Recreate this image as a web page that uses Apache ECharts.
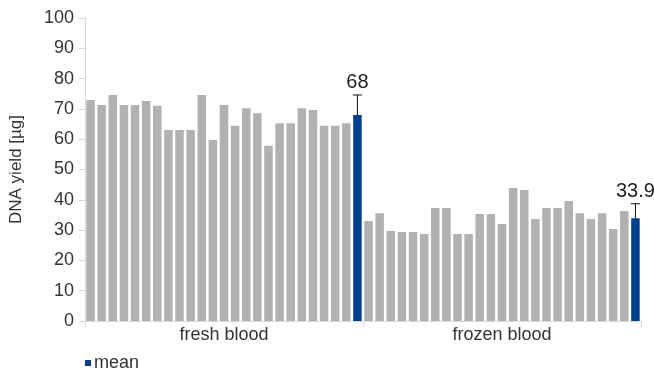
<!DOCTYPE html>
<html><head><meta charset="utf-8">
<script src="https://cdn.jsdelivr.net/npm/echarts@6/dist/echarts.min.js"></script>
<style>html,body{margin:0;padding:0;background:#fff}#c{width:654px;height:372px}</style>
</head><body><div id="c"></div>
<script>
const groups = ['fresh blood', 'frozen blood'];
const freshSamples = [72.9, 71.3, 74.6, 71.3, 71.3, 72.6, 71.0, 63.0, 63.0, 63.0, 74.6, 59.7, 71.3, 64.4, 70.2, 68.6, 57.8, 65.3, 65.3, 70.2, 69.6, 64.4, 64.4, 65.3];
const frozenSamples = [33.0, 35.6, 29.7, 29.4, 29.4, 28.7, 37.3, 37.3, 28.7, 28.7, 35.3, 35.3, 32.0, 43.9, 43.2, 33.7, 37.3, 37.3, 39.6, 35.6, 33.7, 35.6, 30.4, 36.3];
const means = [68, 33.9];
const meanErrors = [6.6, 4.8];
const yTicks = [0, 10, 20, 30, 40, 50, 60, 70, 80, 90, 100];

const font = 'Liberation Sans';
const cats = [], sampleData = [], meanData = [], errData = [];
[freshSamples, frozenSamples].forEach((arr, g) => {
  arr.forEach((v, i) => { cats.push(g + '-' + i); sampleData.push(v); meanData.push(null); });
  cats.push(g + '-mean'); sampleData.push(null); meanData.push(means[g]);
  errData.push([cats.length - 1, means[g], means[g] + meanErrors[g]]);
});

const chart = echarts.init(document.getElementById('c'));
chart.setOption({
  animation: false,
  grid: { left: 84, right: 13, top: 18, bottom: 51 },
  legend: {
    data: [{ name: 'mean', icon: 'rect' }], left: 80, top: 349, itemWidth: 6, itemHeight: 6, itemGap: 4,
    textStyle: { fontFamily: font, fontSize: 18, color: '#333', padding: [0, 0, 0, -2] }
  },
  xAxis: [
    { type: 'category', data: cats, show: false },
    { type: 'category', data: groups, position: 'bottom',
      axisLine: { lineStyle: { color: '#d9d9d9' } },
      axisTick: { show: true, length: 6, lineStyle: { color: '#d9d9d9' } },
      axisLabel: { fontFamily: font, fontSize: 18, color: '#333', margin: 5 } }
  ],
  yAxis: {
    type: 'value', min: 0, max: 100, interval: 10,
    name: 'DNA yield [µg]', nameLocation: 'middle', nameGap: 60, nameRotate: 90,
    nameTextStyle: { fontFamily: font, fontSize: 17, color: '#333' },
    axisLine: { show: true, lineStyle: { color: '#d9d9d9' } },
    axisTick: { show: true, length: 6, lineStyle: { color: '#d9d9d9' } },
    splitLine: { show: false },
    axisLabel: { fontFamily: font, fontSize: 18, color: '#333', margin: 11,
      formatter: v => yTicks.includes(v) ? String(v) : '' }
  },
  series: [
    { name: 'samples', type: 'bar', xAxisIndex: 0, data: sampleData, barWidth: 8.5, barGap: '-100%',
      itemStyle: { color: '#b0b1b3' } },
    { name: 'mean', type: 'bar', xAxisIndex: 0, data: meanData, barWidth: 8.5,
      itemStyle: { color: '#00408a' } },
    { name: 'err', type: 'custom', xAxisIndex: 0, data: errData, z: 5,
      renderItem: (params, api) => {
        const x = api.value(0);
        const p0 = api.coord([x, api.value(1)]);
        const p1 = api.coord([x, api.value(2)]);
        const idx = params.dataIndex;
        const label = String(means[idx]);
        return { type: 'group', children: [
          { type: 'line', shape: { x1: p0[0], y1: p0[1], x2: p1[0], y2: p1[1] }, style: { stroke: '#111', lineWidth: 1 } },
          { type: 'line', shape: { x1: p1[0] - 4.5, y1: p1[1], x2: p1[0] + 4.5, y2: p1[1] }, style: { stroke: '#111', lineWidth: 1 } },
          { type: 'text', style: { text: label, x: p1[0], y: p1[1] - 2, textAlign: 'center', textVerticalAlign: 'bottom',
            font: '20px ' + font, fill: '#222' } }
        ]};
      } }
  ]
});
</script></body></html>
